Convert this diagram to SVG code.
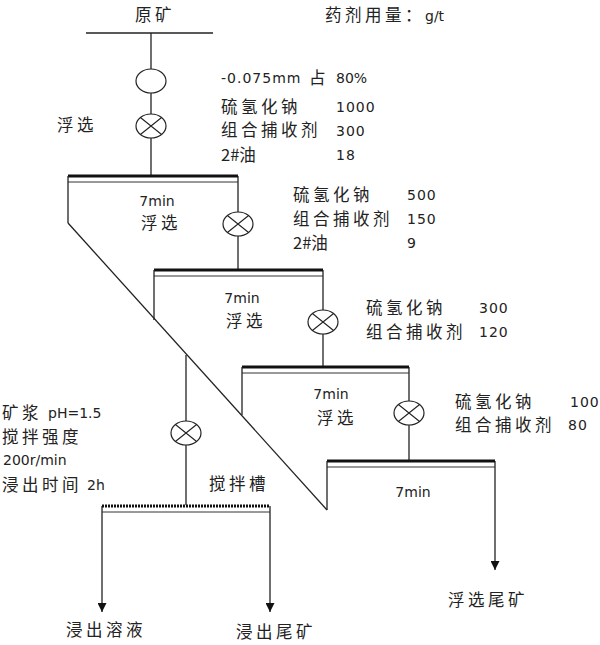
<svg xmlns="http://www.w3.org/2000/svg" width="600" height="645" viewBox="0 0 600 645">
<defs>
<marker id="arr" viewBox="0 0 10 10" refX="10" refY="5" markerWidth="9" markerHeight="9" markerUnits="userSpaceOnUse" orient="auto"><path d="M0,0 L10,5 L0,10 z" fill="#111"/></marker>
<g id="mix"><ellipse cx="0" cy="0" rx="15" ry="12" fill="#fff" stroke="#222" stroke-width="1.2"/><path d="M-10.6,-8.5 L10.6,8.5 M-10.6,8.5 L10.6,-8.5" stroke="#222" stroke-width="1.1"/></g>
</defs>
<style>
.ln{stroke:#222;stroke-width:1.3;fill:none}
.bar{stroke:#111;stroke-width:3;fill:none}
.thin{stroke:#333;stroke-width:1;fill:none}
.cn{font-family:"Noto Sans CJK SC","Noto Sans",sans-serif;font-size:16.5px;letter-spacing:3.5px;fill:#222}
.num{font-family:"DejaVu Sans",sans-serif;font-size:14px;fill:#222}
.mid{text-anchor:middle}
.tight{letter-spacing:0}
</style>
<rect width="600" height="645" fill="#fff"/>

<g id="connectors">
<line class="ln" x1="86" y1="33" x2="213" y2="33"/>
<line class="ln" x1="151" y1="33" x2="151" y2="176"/>
<line class="ln" x1="238" y1="176" x2="238" y2="270"/>
<line class="ln" x1="323" y1="270" x2="323" y2="368"/>
<line class="ln" x1="409" y1="367" x2="409" y2="461"/>
<line class="ln" x1="186" y1="355" x2="186" y2="505"/>
<line class="ln" x1="68" y1="223" x2="327" y2="510"/>
<line class="ln" x1="495" y1="461" x2="495" y2="570" marker-end="url(#arr)"/>
<line class="ln" x1="102" y1="506" x2="102" y2="612" marker-end="url(#arr)"/>
<line class="ln" x1="270" y1="506" x2="270" y2="612" marker-end="url(#arr)"/>
</g>

<g id="grind"><ellipse cx="151" cy="81" rx="15" ry="12" fill="#fff" stroke="#222" stroke-width="1.2"/></g>
<g id="mixer1"><use href="#mix" x="151" y="126"/></g>
<g id="mixer2"><use href="#mix" x="238" y="224"/></g>
<g id="mixer3"><use href="#mix" x="323" y="322"/></g>
<g id="mixer4"><use href="#mix" x="409" y="413"/></g>
<g id="mixer5"><use href="#mix" x="186" y="433"/></g>

<g id="cell1">
<line class="bar" x1="68" y1="176" x2="238" y2="176"/>
<line class="thin" x1="68" y1="182" x2="238" y2="182"/>
<path class="ln" d="M68,176 V223"/>
<text class="num mid" x="157" y="206" font-size="15">7min</text>
<text class="cn mid" x="161" y="229">浮选</text>
</g>
<g id="cell2">
<line class="bar" x1="154" y1="270" x2="323" y2="270"/>
<line class="thin" x1="154" y1="276" x2="323" y2="276"/>
<path class="ln" d="M154,270 V320"/>
<text class="num mid" x="242" y="303" font-size="15">7min</text>
<text class="cn mid" x="246" y="327">浮选</text>
</g>
<g id="cell3">
<line class="bar" x1="242" y1="367" x2="409" y2="367"/>
<line class="thin" x1="242" y1="373" x2="409" y2="373"/>
<path class="ln" d="M242,367 V415"/>
<text class="num mid" x="331" y="399" font-size="15">7min</text>
<text class="cn mid" x="337" y="424">浮选</text>
</g>
<g id="cell4">
<line class="bar" x1="327" y1="461" x2="495" y2="461"/>
<line class="thin" x1="327" y1="467" x2="495" y2="467"/>
<path class="ln" d="M327,461 V510"/>
<text class="num mid" x="413" y="497" font-size="15">7min</text>
</g>
<g id="tank">
<line class="bar" x1="102" y1="506" x2="270" y2="506" stroke-dasharray="2 1"/>
<line class="thin" x1="102" y1="512" x2="270" y2="512"/>
<text class="cn mid" x="239" y="490">搅拌槽</text>
</g>

<g id="labels">
<text class="cn" x="135" y="21">原矿</text>
<text class="cn" x="325" y="21">药剂用量：<tspan class="num" font-size="15" letter-spacing="0">g/t</tspan></text>
<text class="num" x="221" y="83" letter-spacing="1">-0.075mm</text>
<text class="cn" x="309" y="84">占</text>
<text class="num" x="336" y="83">80%</text>
<text class="cn" x="57" y="131">浮选</text>

<text class="cn" x="221" y="113">硫氢化钠</text><text class="num" x="336" y="112" letter-spacing="1">1000</text>
<text class="cn" x="221" y="136">组合捕收剂</text><text class="num" x="336" y="136" letter-spacing="1">300</text>
<text class="cn tight" x="221" y="161">2#油</text><text class="num" x="336" y="160" letter-spacing="1">18</text>

<text class="cn" x="293" y="201">硫氢化钠</text><text class="num" x="407" y="200" letter-spacing="1">500</text>
<text class="cn" x="293" y="225">组合捕收剂</text><text class="num" x="407" y="224" letter-spacing="1">150</text>
<text class="cn tight" x="293" y="249">2#油</text><text class="num" x="407" y="248" letter-spacing="1">9</text>

<text class="cn" x="366" y="314">硫氢化钠</text><text class="num" x="479" y="313" letter-spacing="1">300</text>
<text class="cn" x="366" y="338">组合捕收剂</text><text class="num" x="479" y="337" letter-spacing="1">120</text>

<text class="cn" x="455" y="408">硫氢化钠</text><text class="num" x="570" y="407" letter-spacing="1">100</text>
<text class="cn" x="455" y="431">组合捕收剂</text><text class="num" x="568" y="430" letter-spacing="1">80</text>

<text class="cn" x="2" y="419">矿浆</text><text class="num" x="48" y="418" font-size="15">pH=1.5</text>
<text class="cn" x="2" y="443">搅拌强度</text>
<text class="num" x="3" y="465" font-size="13.5">200r/min</text>
<text class="cn" x="2" y="491">浸出时间</text><text class="num" x="87" y="490" font-size="15">2h</text>

<text class="cn mid" x="106" y="636">浸出溶液</text>
<text class="cn mid" x="276" y="638">浸出尾矿</text>
<text class="cn mid" x="488" y="606">浮选尾矿</text>
</g>
</svg>
